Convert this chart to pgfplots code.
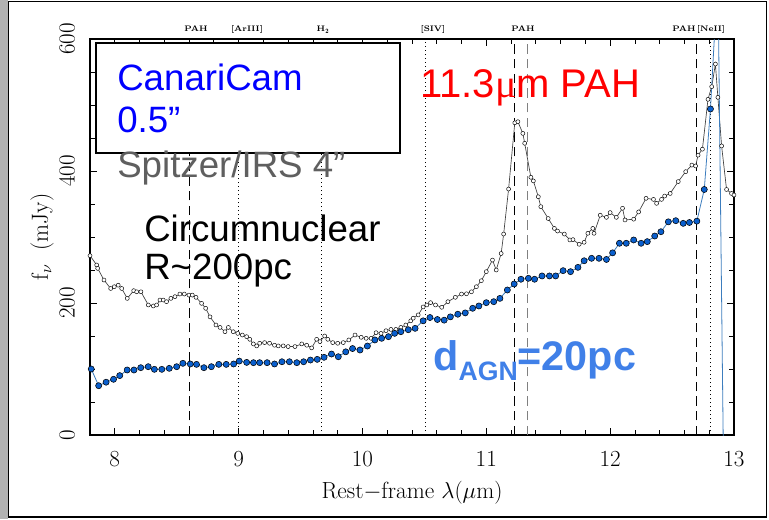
\documentclass[border=0pt]{standalone}
\usepackage{pgfplots}
\pgfplotsset{compat=1.18}
\usepackage{fontspec}
\newfontfamily\arial{Liberation Sans}
\newfontfamily\tnr{Liberation Serif}
\definecolor{markblue}{RGB}{10,95,205}
\definecolor{lineblue}{RGB}{60,125,190}
\definecolor{dagn}{RGB}{64,128,232}
\definecolor{spgray}{RGB}{95,95,95}
\begin{document}
\begin{tikzpicture}[x=0.75pt,y=0.75pt]
\fill[white] (0,0) rectangle (769,519);
\fill[black!30] (0,0) rectangle (8,519);
\draw[black, line width=1.2pt] (8.5,1.8) rectangle (766.5,517.5);
\begin{axis}[
  at={(67.5pt,63pt)}, anchor=south west,
  scale only axis, width=483pt, height=297pt,
  xmin=7.8, xmax=13, ymin=0, ymax=600,
  xtick={8,9,10,11,12,13}, ytick={0,200,400,600},
  minor x tick num=4, minor y tick num=3,
  xtick pos=both, ytick pos=both, ticklabel pos=left,
  tick align=inside,
  major tick length=5pt, minor tick length=4pt,
  axis line style={line width=0.9pt},
  every tick/.style={black, line width=0.6pt},
  tick label style={font=\fontsize{16.5}{18}\selectfont},
  xticklabel style={yshift=-9pt},
  yticklabel style={rotate=90, anchor=south, yshift=8pt},
  xlabel={Rest$-$frame $\lambda(\mu$m$)$},
  ylabel={f$_\nu$\ \ (mJy)},
  label style={font=\fontsize{17.5}{20}\selectfont},
  xlabel style={at={(axis description cs:0.5,-0.1465)}, anchor=center},
  ylabel style={at={(axis description cs:-0.0745,0.5)}, anchor=center},
]
% line markers
\addplot[black, line width=0.6pt, dash pattern=on 7pt off 4pt] coordinates {(8.6,0) (8.6,600)};
\addplot[black, line width=0.6pt, dash pattern=on 1pt off 2pt] coordinates {(9.0,0) (9.0,600)};
\addplot[black, line width=0.6pt, dash pattern=on 1pt off 2pt] coordinates {(9.665,0) (9.665,600)};
\addplot[black, line width=0.6pt, dash pattern=on 1pt off 2pt] coordinates {(10.51,0) (10.51,600)};
\addplot[black, line width=0.6pt, dash pattern=on 7pt off 4pt] coordinates {(11.225,0) (11.225,600)};
\addplot[gray, line width=0.6pt, dash pattern=on 7pt off 4pt] coordinates {(11.33,0) (11.33,600)};
\addplot[black, line width=0.6pt, dash pattern=on 7pt off 4pt] coordinates {(12.695,0) (12.695,600)};
\addplot[black, line width=0.6pt, dash pattern=on 1pt off 2pt] coordinates {(12.81,0) (12.81,600)};
% Spitzer/IRS
\addplot[color=black!75, line width=0.5pt, mark=*, mark size=1.5pt,
  mark options={fill=white, draw=black, line width=0.35pt, solid}] table {
7.80 271.7
7.854 257.6
7.862 252.5
7.913 234.8
7.967 222
7.996 224.7
8.028 227
8.056 222
8.101 207
8.153 218.7
8.177 217
8.211 217
8.271 197
8.311 195.5
8.338 197
8.365 204.5
8.391 204.5
8.418 202
8.453 207
8.486 209.6
8.526 213.6
8.561 213.6
8.599 212
8.626 212
8.656 208.6
8.701 199.5
8.734 192
8.769 179
8.817 166.7
8.850 163
8.890 156.5
8.917 163
8.957 156.5
8.993 154
9.030 151.5
9.065 149
9.09 145
9.119 138
9.146 135
9.17 139
9.21 140
9.25 139
9.29 136
9.32 135
9.36 135
9.40 134
9.455 134
9.51 138
9.55 136
9.59 132
9.63 145
9.657 141.5
9.695 150
9.72 145
9.76 140
9.80 139
9.845 140
9.89 144
9.94 151.5
9.99 148
10.03 146.5
10.07 146.5
10.11 155
10.15 154
10.19 158
10.23 160
10.27 160
10.31 163
10.35 166.7
10.39 173
10.41 177
10.45 182
10.49 194
10.52 197
10.55 200.5
10.59 197
10.64 193.5
10.69 202
10.75 208.6
10.80 213.6
10.84 214
10.88 217
10.92 224.7
10.96 233.8
11.00 247.5
11.05 265
11.08 250
11.12 275
11.14 304.5
11.18 372.7
11.23 473
11.255 474.7
11.295 457
11.31 442
11.36 390.5
11.38 385
11.42 361
11.44 346
11.50 328
11.55 313
11.575 309
11.63 304.5
11.675 295.5
11.70 296
11.75 289
11.79 292
11.82 305.6
11.86 313
11.87 305.6
11.92 333
11.97 329.8
12.00 337
12.05 329.8
12.10 343.5
12.12 325.8
12.19 327
12.23 338
12.29 358.6
12.35 357
12.375 351
12.415 357
12.44 362
12.485 366
12.55 384
12.61 399
12.66 409
12.69 407.6
12.71 424
12.745 433
12.79 508.6
12.82 527.8
12.85 562
12.87 511.6
12.90 438
12.94 372
12.98 366
13.0 363.6
};
% CanariCam
\addplot[color=lineblue, line width=0.6pt, mark=*, mark size=2.3pt,
  mark options={fill=markblue, draw=black, line width=0.4pt}] table {
7.81 100
7.87 74.7
7.93 80
7.99 84.4
8.04 90
8.10 98.5
8.155 98.5
8.21 102
8.27 103.5
8.32 99.5
8.38 99.5
8.44 101
8.50 103.5
8.55 108.6
8.61 107.6
8.66 107
8.72 102
8.78 103.5
8.84 107
8.90 107
8.96 107.6
9.005 112
9.065 110
9.12 109.6
9.17 109.6
9.23 109.6
9.29 107.6
9.35 111
9.41 111
9.47 109.6
9.525 111
9.58 113.6
9.635 114.6
9.69 117.7
9.75 122.7
9.805 118.6
9.865 126
9.92 131
9.98 128.8
10.04 134.8
10.10 144
10.155 146.5
10.21 149
10.26 154
10.31 156.5
10.37 159.5
10.425 161.6
10.49 173
10.545 178
10.605 175
10.66 174
10.71 179
10.77 183
10.83 185
10.89 192
10.94 195.5
11.00 200.5
11.06 202
11.11 207
11.17 219.7
11.225 228.8
11.28 236
11.34 237.4
11.39 236
11.45 241
11.51 241
11.56 241
11.62 249
11.68 247.5
11.74 254
11.79 264
11.85 267.7
11.91 267.7
11.97 266
12.02 276
12.075 290.5
12.13 290.5
12.19 295.5
12.25 290.5
12.30 293
12.36 301.5
12.41 308
12.47 323
12.53 324.7
12.59 320.7
12.64 322
12.70 324
12.76 372
12.81 494
12.87 700
12.915 -40
};
\end{axis}
% line identifications above the frame
\begin{scope}[every node/.style={font=\fontsize{6}{7}\selectfont\bfseries, anchor=base, inner sep=0pt}]
\node at (196,487) {PAH};
\node at (247,487) {[ArIII]};
\node at (323,487) {H$_\mathbf{2}$};
\node at (433,487) {[SIV]};
\node at (523,487) {PAH};
\node at (684,487) {PAH};
\node at (711,487) {[NeII]};
\end{scope}
% annotation box
\draw[black, line width=1.6pt, fill=white] (96,476) rectangle (400,366);
\begin{scope}[every node/.style={anchor=base west, inner sep=0pt}]
\node[text=blue] at (117,428.3) {\arial\fontsize{27.5}{30}\selectfont CanariCam};
\node[text=blue] at (117,386) {\arial\fontsize{27.5}{30}\selectfont 0.5”};
\node[text=spgray] at (117,341) {\arial\fontsize{27.5}{30}\selectfont Spitzer/IRS 4”};
\node[text=black, align=left, font=\arial\fontsize{27.5}{27.75}\selectfont] at (144,240) {Circumnuclear\\R\textasciitilde200pc};
\node[text=red] at (420,421) {\arial\fontsize{30}{32}\selectfont 11.3{\tnr μ}m PAH};
\node[text=dagn] at (433,149) {\arial\bfseries\fontsize{31}{33}\selectfont d\raisebox{-7.5pt}{\fontsize{20}{21}\selectfont AGN}=20pc};
\end{scope}
\pgfresetboundingbox
\path[use as bounding box] (0,0) rectangle (769,519);
\end{tikzpicture}
\end{document}
